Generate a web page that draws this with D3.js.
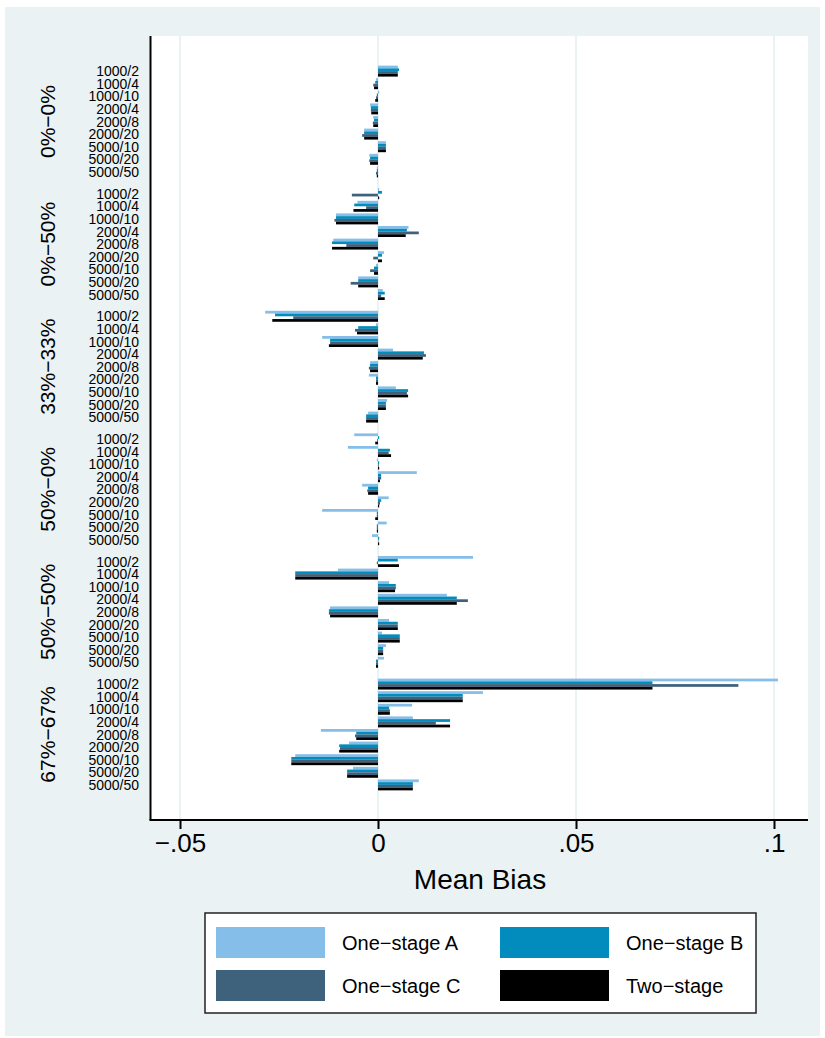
<!DOCTYPE html>
<html lang="en">

<head>
    <meta charset="UTF-8">
    <script src="https://d3js.org/d3.v7.min.js" charset="utf-8"></script>
    <title>Mean Bias</title>
</head>

<body style="margin:0">
    <div id="chart"></div>

    <script>

        const width = 825, height = 1038;

        // donnees
        const groups = ["0%\u22120%", "0%\u221250%", "33%\u221233%", "50%\u22120%", "50%\u221250%", "67%\u221267%"];
        const categories = ["1000/2", "1000/4", "1000/10", "2000/4", "2000/8", "2000/20", "5000/10", "5000/20", "5000/50"];
        const seriesNames = ["One\u2212stage A", "One\u2212stage B", "One\u2212stage C", "Two\u2212stage"];
        const xTicks = [-0.05, 0, 0.05, 0.1];
        const xTickLabels = ["\u2212.05", "0", ".05", ".1"];

        // une valeur par (groupe, categorie), dans l'ordre des groupes
        const oneStageA = [
            0.0050, -0.0005, 0.0003, -0.0020, -0.0012, -0.0035, 0.0020, -0.0022, -0.0003,
            0.0003, -0.0052, -0.0106, 0.0077, -0.0113, 0.0015, -0.0005, -0.0050, 0.0012,
            -0.0285, -0.0005, -0.0141, 0.0038, -0.0020, -0.0023, 0.0045, 0.0023, -0.0025,
            -0.0060, -0.0076, -0.0003, 0.0098, -0.0040, 0.0027, -0.0141, 0.0022, -0.0015,
            0.0240, -0.0101, 0.0028, 0.0174, -0.0121, 0.0028, 0.0010, 0.0020, 0.0015,
            0.1010, 0.0265, 0.0086, 0.0088, -0.0144, -0.0073, -0.0209, -0.0063, 0.0103
        ];
        const oneStageB = [
            0.0053, -0.0007, -0.0003, -0.0018, -0.0010, -0.0035, 0.0020, -0.0020, -0.0003,
            0.0010, -0.0060, -0.0106, 0.0073, -0.0116, 0.0010, -0.0010, -0.0050, 0.0017,
            -0.0260, -0.0050, -0.0121, 0.0116, -0.0020, -0.0005, 0.0076, 0.0020, -0.0030,
            0.0003, 0.0030, 0.0003, 0.0008, -0.0025, 0.0008, -0.0003, -0.0003, 0.0003,
            0.0050, -0.0209, 0.0045, 0.0199, -0.0124, 0.0050, 0.0055, 0.0013, -0.0005,
            0.0693, 0.0214, 0.0028, 0.0182, -0.0055, -0.0098, -0.0219, -0.0078, 0.0088
        ];
        const oneStageC = [
            0.0050, -0.0012, -0.0005, -0.0018, -0.0013, -0.0040, 0.0020, -0.0022, -0.0005,
            -0.0066, -0.0030, -0.0110, 0.0103, -0.0080, -0.0012, -0.0020, -0.0069, 0.0008,
            -0.0214, -0.0058, -0.0121, 0.0121, -0.0023, -0.0005, 0.0073, 0.0020, -0.0030,
            -0.0002, 0.0027, 0.0002, 0.0008, -0.0027, 0.0005, -0.0003, -0.0003, 0.0001,
            -0.0003, -0.0209, 0.0045, 0.0227, -0.0124, 0.0050, 0.0055, 0.0013, -0.0005,
            0.0910, 0.0214, 0.0030, 0.0146, -0.0058, -0.0096, -0.0219, -0.0078, 0.0088
        ];
        const twoStage = [
            0.0050, -0.0010, -0.0007, -0.0017, -0.0012, -0.0035, 0.0020, -0.0020, -0.0003,
            0.0003, -0.0062, -0.0106, 0.0070, -0.0116, 0.0010, -0.0010, -0.0050, 0.0017,
            -0.0267, -0.0053, -0.0124, 0.0113, -0.0020, -0.0005, 0.0076, 0.0020, -0.0030,
            -0.0007, 0.0033, 0.0003, 0.0005, -0.0025, 0.0003, -0.0007, -0.0003, 0.0003,
            0.0053, -0.0209, 0.0043, 0.0199, -0.0121, 0.0050, 0.0055, 0.0013, -0.0005,
            0.0693, 0.0214, 0.0030, 0.0182, -0.0055, -0.0098, -0.0219, -0.0078, 0.0088
        ];

        const colors = ["#84bee9", "#028bbd", "#3e627c", "#000000"];
        const font = "'Liberation Sans', Arial, Helvetica, sans-serif";

        const allSeries = [oneStageA, oneStageB, oneStageC, twoStage];
        const rows = [];
        groups.forEach((g, gi) => {
            categories.forEach((c, ci) => {
                allSeries.forEach((s, si) => {
                    rows.push({ group: g, cat: c, series: seriesNames[si], value: s[gi * categories.length + ci] });
                });
            });
        });

        const plot = { left: 150.5, right: 808, top: 36, bottom: 820 };

        const x = d3.scaleLinear().domain([-0.05, 0.1]).range([180, 774]);

        const yGroup = d3.scaleBand().domain(groups)
            .range([plot.top, plot.bottom])
            .paddingInner(0.075).paddingOuter(0.235);
        const yCat = d3.scaleBand().domain(categories)
            .range([0, yGroup.bandwidth()])
            .paddingInner(0.13).paddingOuter(0.065);
        const ySeries = d3.scaleBand().domain(seriesNames)
            .range([0, yCat.bandwidth()]);
        const color = d3.scaleOrdinal().domain(seriesNames).range(colors);

        const svg = d3.select('#chart').append("svg")
            .attr("width", width)
            .attr("height", height)
            .style("font-family", font);

        // fond
        svg.append("rect").attr("width", width).attr("height", height).attr("fill", "#ffffff");
        svg.append("rect").attr("x", 5).attr("y", 7).attr("width", 815).attr("height", 1029).attr("fill", "#eaf2f3");
        svg.append("rect")
            .attr("x", plot.left).attr("y", plot.top)
            .attr("width", plot.right - plot.left).attr("height", plot.bottom - plot.top)
            .attr("fill", "#ffffff");

        // grille verticale
        svg.append("g").selectAll("line")
            .data(xTicks)
            .enter()
            .append("line")
            .attr("x1", d => x(d)).attr("x2", d => x(d))
            .attr("y1", plot.top).attr("y2", plot.bottom)
            .attr("stroke", "#eaf2f3")
            .attr("stroke-width", 2);

        // barres
        svg.append("g").selectAll("rect")
            .data(rows)
            .enter()
            .append("rect")
            .attr("x", d => Math.min(x(0), x(d.value)))
            .attr("width", d => Math.abs(x(d.value) - x(0)))
            .attr("y", d => yGroup(d.group) + yCat(d.cat) + ySeries(d.series))
            .attr("height", ySeries.bandwidth())
            .attr("fill", d => color(d.series));

        // axe y
        svg.append("line")
            .attr("x1", plot.left).attr("x2", plot.left)
            .attr("y1", plot.top).attr("y2", plot.bottom)
            .attr("stroke", "#000").attr("stroke-width", 2);

        const catLabels = svg.append("g");
        groups.forEach(g => {
            catLabels.append("g").selectAll("text")
                .data(categories)
                .enter()
                .append("text")
                .attr("x", 139)
                .attr("y", c => yGroup(g) + yCat(c) + yCat.bandwidth() / 2)
                .attr("dy", "0.36em")
                .attr("text-anchor", "end")
                .attr("font-size", 14)
                .text(c => c);
        });

        svg.append("g").selectAll("text")
            .data(groups)
            .enter()
            .append("text")
            .attr("transform", g => "translate(55," + (yGroup(g) + yGroup.bandwidth() / 2) + ") rotate(-90)")
            .attr("text-anchor", "middle")
            .attr("font-size", 21)
            .text(g => g);

        // axe x
        const xAxis = d3.axisBottom(x)
            .tickValues(xTicks)
            .tickFormat((d, i) => xTickLabels[i])
            .tickSize(9)
            .tickPadding(5);
        const gx = svg.append("g")
            .attr("transform", "translate(0," + plot.bottom + ")")
            .call(xAxis);
        gx.select(".domain").remove();
        gx.selectAll(".tick line").attr("stroke", "#000").attr("stroke-width", 2);
        gx.selectAll(".tick text").attr("font-size", 26).attr("font-family", font).attr("fill", "#000");
        svg.append("line")
            .attr("x1", plot.left - 1).attr("x2", plot.right)
            .attr("y1", plot.bottom).attr("y2", plot.bottom)
            .attr("stroke", "#000").attr("stroke-width", 2);

        svg.append("text")
            .attr("x", (x(-0.05) + x(0.1)) / 2 + 3)
            .attr("y", 889)
            .attr("text-anchor", "middle")
            .attr("font-size", 28)
            .text("Mean Bias");

        // legende
        const legend = svg.append("g");
        legend.append("rect")
            .attr("x", 205).attr("y", 913)
            .attr("width", 551).attr("height", 100)
            .attr("fill", "#fff")
            .attr("stroke", "#222").attr("stroke-width", 1.5);
        const lx = [216, 500], ly = [927, 970];
        const item = legend.selectAll(".item")
            .data(seriesNames)
            .enter()
            .append("g")
            .attr("transform", (d, i) => "translate(" + lx[i % 2] + "," + ly[Math.floor(i / 2)] + ")");
        item.append("rect")
            .attr("width", 109).attr("height", 31)
            .attr("fill", d => color(d));
        item.append("text")
            .attr("x", 126).attr("y", 16)
            .attr("dy", "0.35em")
            .attr("font-size", 20)
            .text(d => d);

    </script>
</body>

</html>
